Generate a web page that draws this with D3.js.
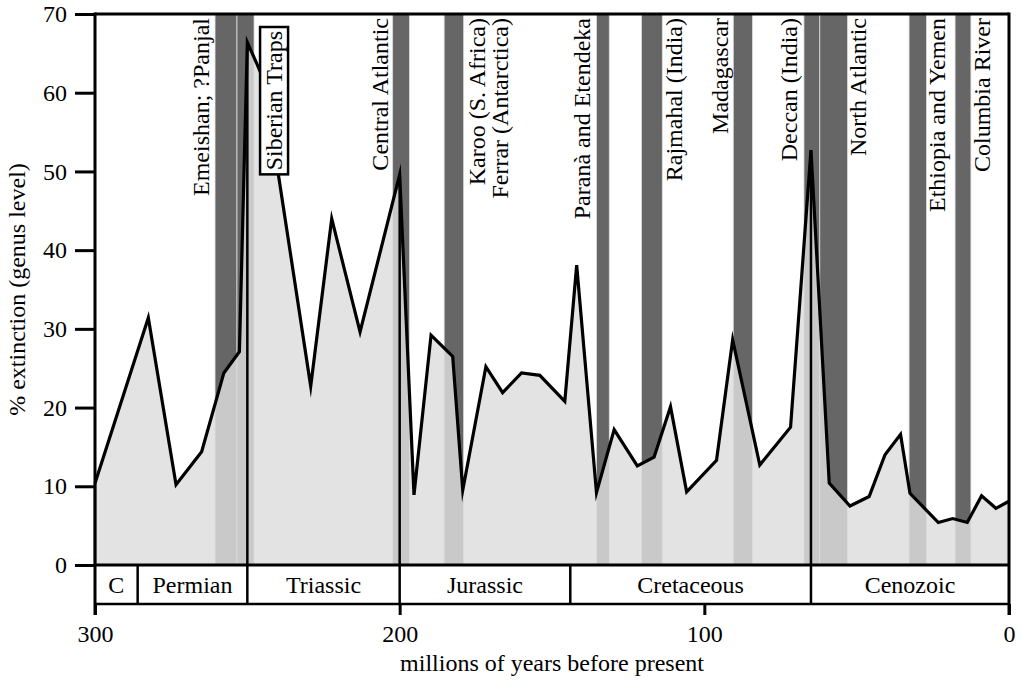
<!DOCTYPE html>
<html>
<head>
<meta charset="utf-8">
<script src="https://cdn.jsdelivr.net/npm/d3@7"></script>
<style>
  body { margin: 0; background: #fff; }
  svg text { font-family: "Liberation Serif", "Times New Roman", serif; font-size: 24px; fill: #000; }
</style>
</head>
<body>
<svg id="chart" width="1023" height="681"></svg>
<script>

/// Extinction intensity (genus level) against age, with flood basalt events.

var ages       = [300, 282.5, 273.4, 265, 257.7, 252.6, 250, 246.9, 244.5, 229.2, 222.3, 213, 200, 195.3,
                  189.7, 182.6, 179.3, 171.7, 166.2, 160, 154, 145.8, 141.9, 135.4, 129.6, 122, 116.5,
                  111.1, 105.8, 96, 90.7, 81.8, 71.7, 65, 59, 52.2, 45.9, 40.7, 35.6, 32.5, 23.2, 18.5,
                  13.7, 9, 4.3, 0];
var extinction = [10.4, 31.4, 10.2, 14.4, 24.4, 27.1, 66.4, 63.7, 61.5, 22.7, 44.0, 29.6, 49.6, 8.9,
                  29.2, 26.5, 9.5, 25.2, 21.9, 24.4, 24.1, 20.8, 38.1, 9.2, 17.2, 12.6, 13.7,
                  20.1, 9.3, 13.3, 28.6, 12.7, 17.5, 52.7, 10.4, 7.5, 8.7, 14.0, 16.6, 9.1, 5.4, 5.9,
                  5.4, 8.8, 7.2, 8.1];

var drops = [300, 250, 200, 65];   /// ages where the curve falls straight to zero

var bandStart = [260.6, 253.4, 202.3, 185.4, 135.4, 120.6, 90.5, 67.3, 62.1, 32.8, 17.7];
var bandEnd   = [253.4, 247.8, 196.8, 179.0, 131.2, 113.8, 84.2, 62.1, 53.0, 27.1, 12.5];

var labelText = ["Emeishan; ?Panjal", "Central Atlantic", "Karoo (S. Africa)", "Ferrar (Antarctica)",
                 "Paranà and Etendeka", "Rajmahal (India)", "Madagascar", "Deccan (India)",
                 "North Atlantic", "Ethiopia and Yemen", "Columbia River"];
var labelAge  = [262.6, 203.9, 171.9, 164.4, 137.4, 107.3, 92.3, 69.6, 46.8, 21.1, 6.1];
var boxedText = "Siberian Traps";
var boxedAge  = 238.6;

var periodNames = ["C", "Permian", "Triassic", "Jurassic", "Cretaceous", "Cenozoic"];
var periodEdges = [300, 286, 250, 200, 144, 65, 0];

var xTicks = [300, 200, 100, 0];
var yTicks = [0, 10, 20, 30, 40, 50, 60, 70];

var pLeft = 95, pRight = 1009, pTop = 14, pBottom = 565;
var bandBottom = 604, tickEnd = 615;

var x = d3.scaleLinear().domain([300, 0]).range([pLeft, pRight]);
var y = d3.scaleLinear().domain([0, 70]).range([pBottom, pTop]);

var svg = d3.select("#chart");
var series = ages.map((a, i) => ({age: a, v: extinction[i]}));

/// Dark bars for the flood basalt events
svg.append("g").selectAll("rect")
    .data(bandStart)
    .enter().append("rect")
    .attr("x", d => x(d))
    .attr("y", pTop)
    .attr("width", (d, i) => x(bandEnd[i]) - x(d))
    .attr("height", pBottom - pTop)
    .attr("fill", "#666")
    .attr("stroke", "#ddd")
    .attr("stroke-width", 0.8);

var area = d3.area()
    .x(d => x(d.age))
    .y0(y(0))
    .y1(d => y(d.v));

svg.append("clipPath").attr("id", "under")
    .append("path").attr("d", area(series));

svg.append("path")
    .attr("d", area(series))
    .attr("fill", "#e3e3e3");

/// Lighter bars under the curve
svg.append("g").attr("clip-path", "url(#under)")
    .selectAll("rect")
    .data(bandStart)
    .enter().append("rect")
    .attr("x", d => x(d))
    .attr("y", pTop)
    .attr("width", (d, i) => x(bandEnd[i]) - x(d))
    .attr("height", pBottom - pTop)
    .attr("fill", "#c9c9c9")
    .attr("stroke", "#ddd")
    .attr("stroke-width", 0.8);

var line = d3.line()
    .x(d => x(d.age))
    .y(d => y(d.v));

svg.append("path")
    .attr("d", line(series))
    .attr("fill", "none")
    .attr("stroke", "#000")
    .attr("stroke-width", 3.2)
    .attr("stroke-miterlimit", 10);

svg.append("g").selectAll("line")
    .data(drops)
    .enter().append("line")
    .attr("x1", d => x(d)).attr("x2", d => x(d))
    .attr("y1", y(0))
    .attr("y2", d => y(extinction[ages.indexOf(d)]))
    .attr("stroke", "#000")
    .attr("stroke-width", 2.5);

/// Period strip below the plot
var periods = svg.append("g");
periods.append("rect")
    .attr("x", pLeft).attr("y", pBottom)
    .attr("width", pRight - pLeft).attr("height", bandBottom - pBottom)
    .attr("fill", "#fff");
periods.selectAll("line")
    .data(periodEdges.slice(1, -1))
    .enter().append("line")
    .attr("x1", d => x(d)).attr("x2", d => x(d))
    .attr("y1", pBottom).attr("y2", bandBottom)
    .attr("stroke", "#000").attr("stroke-width", 2.5);
periods.append("line")
    .attr("x1", pLeft).attr("x2", pRight)
    .attr("y1", bandBottom).attr("y2", bandBottom)
    .attr("stroke", "#000").attr("stroke-width", 2.5);
periods.selectAll("text")
    .data(periodNames)
    .enter().append("text")
    .attr("x", (d, i) => (x(periodEdges[i]) + x(periodEdges[i + 1])) / 2)
    .attr("y", 593)
    .attr("text-anchor", "middle")
    .text(d => d);

/// Frame
svg.append("line").attr("x1", pLeft).attr("x2", pRight).attr("y1", pTop).attr("y2", pTop)
    .attr("stroke", "#000").attr("stroke-width", 3);
svg.append("line").attr("x1", pLeft).attr("x2", pRight).attr("y1", pBottom).attr("y2", pBottom)
    .attr("stroke", "#000").attr("stroke-width", 3);
svg.append("line").attr("x1", pLeft).attr("x2", pLeft).attr("y1", pTop - 1.5).attr("y2", tickEnd)
    .attr("stroke", "#000").attr("stroke-width", 3);
svg.append("line").attr("x1", pRight).attr("x2", pRight).attr("y1", pTop - 1.5).attr("y2", tickEnd)
    .attr("stroke", "#000").attr("stroke-width", 3);

/// Axes
var yAxis = svg.append("g")
    .attr("transform", "translate(" + pLeft + ",0)")
    .call(d3.axisLeft(y).tickValues(yTicks).tickSize(20).tickPadding(8));
yAxis.select(".domain").remove();
yAxis.selectAll("line").attr("stroke", "#000").attr("stroke-width", 3);
yAxis.selectAll("text").attr("font-size", null).attr("font-family", null);

var xAxis = svg.append("g")
    .attr("transform", "translate(0," + bandBottom + ")")
    .call(d3.axisBottom(x).tickValues(xTicks).tickSize(tickEnd - bandBottom).tickPadding(10));
xAxis.select(".domain").remove();
xAxis.selectAll("line").attr("stroke", "#000").attr("stroke-width", 3);
xAxis.selectAll("text").attr("font-size", null).attr("font-family", null);

svg.append("text")
    .attr("x", (pLeft + pRight) / 2).attr("y", 671)
    .attr("text-anchor", "middle")
    .text("millions of years before present");

svg.append("text")
    .attr("transform", "translate(25," + ((pTop + pBottom) / 2) + ") rotate(-90)")
    .attr("text-anchor", "middle")
    .text("% extinction (genus level)");

/// Event labels, rotated
svg.append("g").selectAll("text")
    .data(labelText)
    .enter().append("text")
    .attr("transform", (d, i) => "translate(" + x(labelAge[i]) + ",18) rotate(-90)")
    .attr("text-anchor", "end")
    .text(d => d);

var boxed = svg.append("g")
    .attr("transform", "translate(" + x(boxedAge) + ",31) rotate(-90)");
var bt = boxed.append("text")
    .attr("text-anchor", "end")
    .text(boxedText);
var bb = bt.node().getBBox();
boxed.insert("rect", "text")
    .attr("x", bb.x - 4).attr("y", bb.y - 1)
    .attr("width", bb.width + 8).attr("height", bb.height + 2)
    .attr("fill", "#fff").attr("stroke", "#000").attr("stroke-width", 2.5);

</script>
</body>
</html>
